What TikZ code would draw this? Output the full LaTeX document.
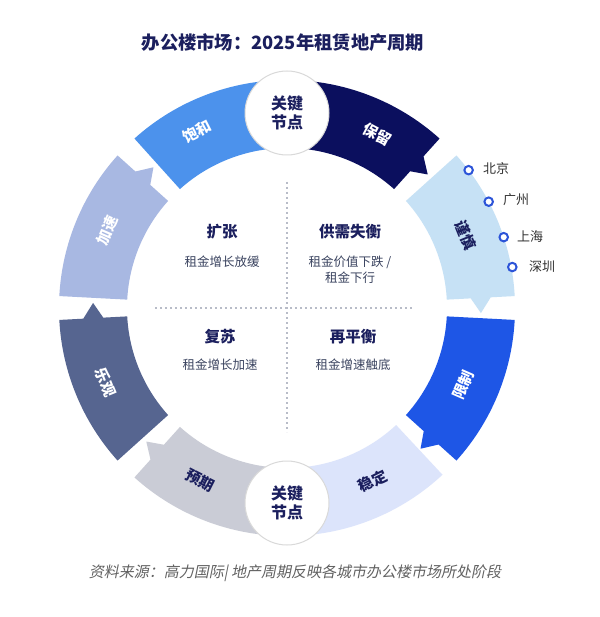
\documentclass[tikz,border=0pt]{standalone}
\usepackage{fontspec}
\setmainfont{Noto Sans CJK SC}
\newfontfamily\cjkit{Noto Sans CJK SC}[FakeSlant=0.2]
\definecolor{cSat}{HTML}{4C92EC}
\definecolor{cKeep}{HTML}{0B0F5E}
\definecolor{cCaut}{HTML}{C6E1F5}
\definecolor{cLim}{HTML}{1E56E6}
\definecolor{cStab}{HTML}{DCE4FB}
\definecolor{cExp}{HTML}{CACCD6}
\definecolor{cOpt}{HTML}{566590}
\definecolor{cAcc}{HTML}{A8B8E2}
\definecolor{navy}{HTML}{1B1F5E}
\definecolor{subtxt}{HTML}{3B4460}
\definecolor{dotgray}{HTML}{B8BCC8}
\definecolor{cityblue}{HTML}{2C54D8}
\newcommand\segtip[3]{\fill[#3] (#1:228) arc[start angle=#1, end angle=#2, radius=228pt] -- (#2:204) -- ({#2-4.5}:194) -- (#2:184) -- (#2:160) arc[start angle=#2, end angle=#1, radius=160pt] -- cycle;}
\newcommand\segplain[3]{\fill[#3] (#1:228) arc[start angle=#1, end angle=#2, radius=228pt] -- (#2:160) arc[start angle=#2, end angle=#1, radius=160pt] -- cycle;}
\begin{document}
\begin{tikzpicture}[x=1pt,y=1pt,
  seglabel/.style={font=\fontsize{15}{15}\selectfont\bfseries, inner sep=0pt},
  keynode/.style={circle, fill=white, draw=black!15, line width=1pt, minimum size=84pt, inner sep=0pt, align=center, font=\fontsize{16}{19}\selectfont\bfseries, text=navy},
  quadhead/.style={font=\fontsize{15.5}{15.5}\selectfont\bfseries, text=navy},
  quadsub/.style={font=\fontsize{12.5}{16}\selectfont, text=subtxt, align=center},
  citydot/.style={circle, draw=cityblue, line width=2pt, fill=white, minimum size=8.5pt, inner sep=0pt},
  citytxt/.style={font=\fontsize{13}{13}\selectfont, text=black!80, anchor=west, inner sep=0pt},
  dotline/.style={dotgray, line width=1.6pt, dash pattern=on 1.6pt off 3.4pt}]
\useasboundingbox (0,0) rectangle (599,-617);
\fill[white] (0,0) rectangle (599,-617);
\node[font=\fontsize{18.3}{20}\selectfont\bfseries, text=navy] (title) at (283,-43) {办公楼市场：2025年租赁地产周期};
% dotted cross
\coordinate (vt) at (287,-182);
\coordinate (vb) at (287,-432);
\coordinate (hl) at (155,-308);
\coordinate (hr) at (412,-308);
\draw[dotline] (vt) -- (vb);
\draw[dotline] (hl) -- (hr);
\begin{scope}[shift={(287,-308)}]
\segplain{132}{90}{cSat}
\segtip{90}{48}{cKeep}
\segtip{42}{3}{cCaut}
\segtip{-3}{-42}{cLim}
\segplain{-47}{-90}{cStab}
\segtip{270}{228}{cExp}
\segtip{222}{183}{cOpt}
\segtip{177}{138}{cAcc}
\node[seglabel, text=white, rotate=27] (lsat) at (117:198) {饱和};
\node[seglabel, text=white, rotate=-27.5] (lkeep) at (62.5:196) {保留};
\node[seglabel, text=navy, rotate=-68] (lcaut) at (22.2:193) {谨慎};
\node[seglabel, text=white, rotate=66.4] (llim) at (-23.6:192) {限制};
\node[seglabel, text=navy, rotate=26.3] (lstab) at (-63.7:193) {稳定};
\node[seglabel, text=navy, rotate=-26.8] (lexp) at (243.2:193) {预期};
\node[seglabel, text=white, rotate=-67.6] (lopt) at (202.4:196) {乐观};
\node[seglabel, text=white, rotate=66.6] (lacc) at (156.6:196) {加速};
\node[keynode] (ktop) at (90:195) {关键\\节点};
\node[keynode] (kbot) at (270:195) {关键\\节点};
\node[citydot] (d1) at (37.2:228) {};
\node[citydot] (d2) at (27.8:228) {};
\node[citydot] (d3) at (18.1:228) {};
\node[citydot] (d4) at (10.3:229) {};
\end{scope}
\node[citytxt] (c1) at (483,-169) {北京};
\node[citytxt] (c2) at (503,-200) {广州};
\node[citytxt] (c3) at (517,-237) {上海};
\node[citytxt] (c4) at (529,-267) {深圳};
\node[quadhead] (q1) at (222,-232) {扩张};
\node[quadsub] (s1) at (222,-262) {租金增长放缓};
\node[quadhead] (q2) at (350,-232) {供需失衡};
\node[quadsub] (s2) at (350,-270) {租金价值下跌 /\\租金下行};
\node[quadhead] (q3) at (220,-337) {复苏};
\node[quadsub] (s3) at (220,-365) {租金增长加速};
\node[quadhead] (q4) at (353,-337) {再平衡};
\node[quadsub] (s4) at (353,-365) {租金增速触底};
\node[font=\fontsize{15}{15}\selectfont\cjkit, text=black!62] (foot) at (295,-573) {资料来源：高力国际| 地产周期反映各城市办公楼市场所处阶段};
\end{tikzpicture}
\end{document}
